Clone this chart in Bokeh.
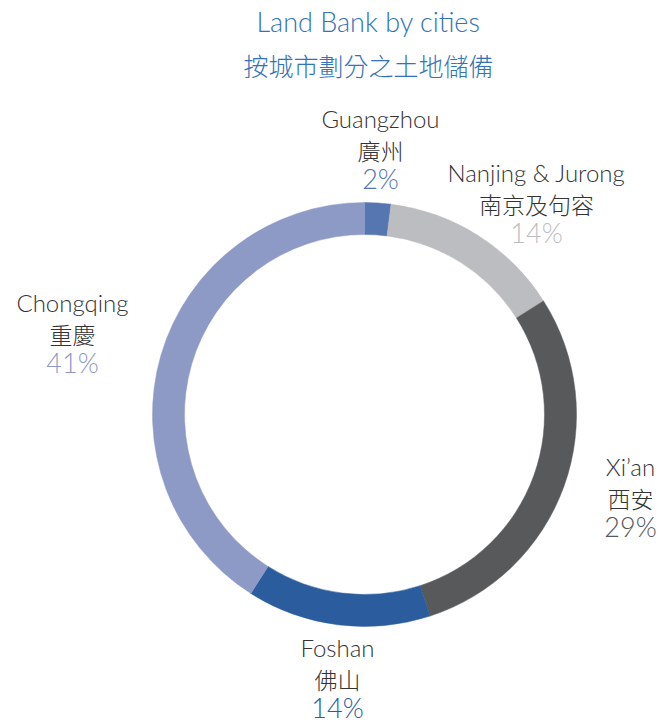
from bokeh.plotting import figure
from bokeh.models import Range1d, ColumnDataSource
from bokeh.core.properties import value
from bokeh.embed import file_html
from bokeh.resources import INLINE
import math

# Data
cities_en = ["Guangzhou", "Nanjing & Jurong", "Xi\u2019an", "Foshan", "Chongqing"]
cities_zh = ["廣州", "南京及句容", "西安", "佛山", "重慶"]
shares = [2, 14, 29, 14, 41]
colors = ["#5676b1", "#bcbdc0", "#58595b", "#2b5c9e", "#8e9ac6"]
title_en = "Land Bank by cities"
title_zh = "按城市劃分之土地儲備"

W, H = 660, 725
p = figure(width=W, height=H, output_backend="svg", toolbar_location=None,
           x_range=Range1d(0, W), y_range=Range1d(0, H), min_border=0)
p.axis.visible = False
p.grid.visible = False
p.outline_line_color = None
p.background_fill_color = "white"

cx, cy = 364, H - 414
r_out, r_in = 212, 180

total = sum(shares)
starts, ends = [], []
acc = 0.0
for s in shares:
    a0 = math.pi / 2 - 2 * math.pi * acc / total
    acc += s
    a1 = math.pi / 2 - 2 * math.pi * acc / total
    starts.append(a0)
    ends.append(a1)

src = ColumnDataSource(dict(start=starts, end=ends, color=colors))
p.annular_wedge(x=cx, y=cy, inner_radius=r_in, outer_radius=r_out,
                start_angle="start", end_angle="end", direction="clock",
                fill_color="color", line_color="color", line_width=0.5, source=src)

latin = value("'Lato Light', Lato")
cjk = value("'Noto Sans CJK TC Light', 'Noto Sans CJK TC DemiLight', 'Noto Sans CJK TC'")
title_col = "#3473b8"
lab_col = "#333333"

# Titles
p.text(x=[368], y=[H - 21], text=[title_en], text_font=latin, text_font_size="27px",
       text_color=title_col, text_align="center", text_baseline="middle")
p.text(x=[368], y=[H - 64], text=[title_zh], text_font=cjk, text_font_size="25px",
       text_color=title_col, text_align="center", text_baseline="middle")

# Label positions (screen coords) for each slice
lab_x = [380, 536, 630, 337, 72]
lab_y = [118, 172, 466, 647, 302]
for i in range(len(shares)):
    x = lab_x[i]
    y = lab_y[i]
    p.text(x=[x], y=[H - y], text=[cities_en[i]], text_font=latin, text_font_size="24px",
           text_color=lab_col, text_align="center", text_baseline="middle")
    p.text(x=[x], y=[H - y - 31], text=[cities_zh[i]], text_font=cjk, text_font_size="23px",
           text_color=lab_col, text_align="center", text_baseline="middle")
    p.text(x=[x], y=[H - y - 60], text=[f"{shares[i]}%"], text_font=latin, text_font_size="27px",
           text_color=colors[i], text_align="center", text_baseline="middle")

open("out.html", "w").write(file_html(p, INLINE))
